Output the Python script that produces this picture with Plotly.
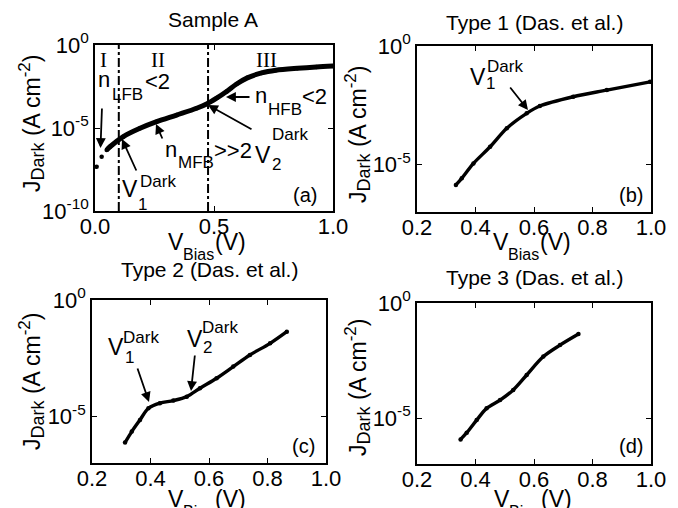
import plotly.graph_objects as go

W, H = 678, 508
SANS = "Liberation Sans, Arial, sans-serif"
SERIF = "Liberation Serif, Times New Roman, serif"

# ---------------- data: bias voltage (V) and log10 of dark current density (A cm^-2)
a_v = [0.007, 0.028, 0.049, 0.063, 0.119, 0.189, 0.259, 0.343, 0.427, 0.469,
       0.511, 0.553, 0.595, 0.640, 0.700, 0.760, 0.850, 0.930, 1.0]
a_logj = [-7.33, -6.73, -6.33, -6.13, -5.52, -5.02, -4.62, -4.22, -3.81, -3.55,
          -3.20, -2.80, -2.35, -1.98, -1.68, -1.52, -1.40, -1.32, -1.27]

b_v = [0.333, 0.353, 0.393, 0.450, 0.507, 0.575, 0.620, 0.734, 0.849, 0.997]
b_logj = [-5.86, -5.58, -4.95, -4.25, -3.47, -2.84, -2.53, -2.14, -1.86, -1.51]

c_v = [0.313, 0.336, 0.364, 0.393, 0.432, 0.478, 0.524, 0.569, 0.626, 0.683,
       0.740, 0.809, 0.866]
c_logj = [-6.12, -5.65, -5.15, -4.65, -4.43, -4.32, -4.15, -3.79, -3.36, -2.86,
          -2.36, -1.86, -1.36]

d_v = [0.349, 0.370, 0.404, 0.438, 0.484, 0.529, 0.575, 0.632, 0.689, 0.752]
d_logj = [-5.93, -5.64, -5.09, -4.58, -4.22, -3.78, -3.13, -2.33, -1.83, -1.35]

region_lines_a = [0.1, 0.475]          # V1 and V2 in sample A
region_labels_a = ["I", "II", "III"]

titles = ["Sample A", "Type 1 (Das. et al.)", "Type 2 (Das. et al.)", "Type 3 (Das. et al.)"]
panel_tags = ["(a)", "(b)", "(c)", "(d)"]

xtick_a = [0.0, 0.5, 1.0]
xtick_bcd = [0.2, 0.4, 0.6, 0.8, 1.0]
ytick_a = [1e-10, 1e-5, 1e0]
ytick_a_text = ["10<sup>-10</sup>", "10<sup>-5</sup>", "10<sup>0</sup>"]
ytick_bcd = [1e-5, 1e0]
ytick_bcd_text = ["10<sup>-5</sup>", "10<sup>0</sup>"]

# ---------------- layout boxes (pixels)
boxes = {
    "a": (95, 333, 45, 211),
    "b": (417, 651, 46, 212),
    "c": (92, 326, 300, 463),
    "d": (417, 651, 303, 464),
}

def dom(b):
    x0, x1, y0, y1 = b
    return [x0 / W, x1 / W], [1 - y1 / H, 1 - y0 / H]

fig = go.Figure()

series = [("a", a_v, a_logj, "x", "y", 5.0, 2),
          ("b", b_v, b_logj, "x2", "y2", 3.4, 0),
          ("c", c_v, c_logj, "x3", "y3", 3.4, 0),
          ("d", d_v, d_logj, "x4", "y4", 3.4, 0)]
for key, v, lj, xa, ya, lw, s0 in series:
    j = [10 ** e for e in lj]
    fig.add_trace(go.Scatter(x=v[s0:], y=j[s0:], mode="lines", xaxis=xa, yaxis=ya,
                             line=dict(color="black", width=lw, shape="spline", smoothing=0.9),
                             showlegend=False, hoverinfo="skip"))
    fig.add_trace(go.Scatter(x=v, y=j, mode="markers", xaxis=xa, yaxis=ya,
                             marker=dict(color="black", size=4.5),
                             showlegend=False))

axcommon = dict(showline=True, linecolor="black", linewidth=1.6, mirror="ticks",
                ticks="inside", ticklen=5, tickwidth=1.4, tickcolor="black",
                showgrid=False, zeroline=False, automargin=False,
                tickfont=dict(family=SANS, size=22, color="black"))

layout = dict(template="none", width=W, height=H, autosize=False,
              margin=dict(l=0, r=0, t=0, b=0, pad=0),
              paper_bgcolor="white", plot_bgcolor="white", showlegend=False)

names = [("a", "", ""), ("b", "2", "2"), ("c", "3", "3"), ("d", "4", "4")]
for key, xs, ys in names:
    xd, yd = dom(boxes[key])
    if key == "a":
        xt, xtt = xtick_a, ["%.1f" % t for t in xtick_a]
        xr = [0, 1]
        yr, yt, ytt = [-10, 0], ytick_a, ytick_a_text
    else:
        xt, xtt = xtick_bcd, ["%.1f" % t for t in xtick_bcd]
        xr = [0.2, 1.0]
        yr, yt, ytt = [-7, 0], ytick_bcd, ytick_bcd_text
    layout["xaxis" + xs] = dict(domain=xd, range=xr, anchor="y" + ys,
                                tickvals=xt, ticktext=xtt, ticklabelstandoff=-5,
                                **axcommon)
    layout["yaxis" + ys] = dict(domain=yd, range=yr, type="log", anchor="x" + xs,
                                tickvals=yt, ticktext=ytt, **axcommon)

fig.update_layout(**layout)

# dash-dot region boundaries in (a)
for xv in region_lines_a:
    fig.add_shape(type="line", xref="x", yref="y domain", x0=xv, x1=xv, y0=0, y1=1,
                  line=dict(color="black", width=2, dash="dashdot"))

ann = []

def T(px, base, text, size=22, family=SANS, xanchor="left", k=0.3465):
    ann.append(dict(x=px / W, y=1 - (base - k * size) / H, xref="paper", yref="paper",
                    text=text, showarrow=False, xanchor=xanchor, yanchor="middle",
                    borderpad=0, font=dict(size=size, family=family, color="black")))

def ARW(tail, tip):
    ann.append(dict(x=tip[0] / W, y=1 - tip[1] / H, xref="paper", yref="paper",
                    ax=tail[0] - tip[0], ay=tail[1] - tip[1], axref="pixel", ayref="pixel",
                    text="", showarrow=True, arrowhead=2, arrowsize=1.1,
                    arrowwidth=1.8, arrowcolor="black"))

def VDARK(px, base, sub, sup_x, sup_base, sub_x, sub_base):
    T(px, base, "V", 23)
    T(sup_x, sup_base, "Dark", 17)
    T(sub_x, sub_base, sub, 17)

def YLABEL(cx, cy):
    ann.append(dict(x=cx / W, y=1 - cy / H, xref="paper", yref="paper", textangle=-90,
                    text="J<sub><span style='font-size:18px'>Dark</span></sub> (A cm"
                         "<sup><span style='font-size:17px'>-2</span></sup>)",
                    showarrow=False, xanchor="center", yanchor="middle",
                    font=dict(size=23, family=SANS, color="black")))

def XLABEL(left, base):
    T(left, base, "V", 23)
    T(left + 15, base + 10, "Bias", 16)
    T(left + 47, base, "(V)", 23)

# titles
T(213, 27, titles[0], 21, xanchor="center")
T(534, 30, titles[1], 21, xanchor="center")
T(209, 277, titles[2], 21, xanchor="center")
T(534, 285, titles[3], 21, xanchor="center")

# panel tags
T(305, 202, panel_tags[0], 20, xanchor="center")
T(631, 202, panel_tags[1], 20, xanchor="center")
T(303, 453, panel_tags[2], 20, xanchor="center")
T(631, 453, panel_tags[3], 20, xanchor="center")

# axis titles
YLABEL(31, 124); YLABEL(357, 135); YLABEL(31, 382); YLABEL(357, 388)
XLABEL(167, 250); XLABEL(492, 250); XLABEL(167, 507); XLABEL(493, 507)

# region labels in (a)
T(103.5, 67, region_labels_a[0], 21, SERIF, "center", 0.3375)
T(158, 67, region_labels_a[1], 21, SERIF, "center", 0.3375)
T(266, 67, region_labels_a[2], 21, SERIF, "center", 0.3375)

# ideality factor labels in (a)
T(97, 87, "n", 22); T(111, 100, "LFB", 17); T(144, 89, "&lt;2", 22)
T(254, 103, "n", 22); T(267, 115, "HFB", 17); T(301, 104, "&lt;2", 22)
T(164, 157, "n", 22); T(177, 168, "MFB", 17); T(213, 158, "&gt;&gt;2", 22)
ARW((102, 107), (100.5, 148))
ARW((251, 97), (226, 97))
ARW((163, 140), (156, 124))

# V dark labels
VDARK(121, 197, "1", 139, 187, 137, 210)
ARW((137, 172), (122, 139))
VDARK(254, 163, "2", 271, 140, 271, 170)
ARW((253, 130), (208, 105))

VDARK(469, 85, "1", 486, 72, 485, 89)
ARW((509, 86), (528, 110))

VDARK(107, 355, "1", 122, 343, 124, 363)
ARW((137, 367), (149, 402))
VDARK(186, 347, "2", 201, 333, 202, 353)
ARW((195, 354), (191, 391))

fig.update_layout(annotations=ann)
fig.write_html("out.html", config={"displayModeBar": False},
               post_script="document.body.style.margin='0';document.body.style.padding='0';")
